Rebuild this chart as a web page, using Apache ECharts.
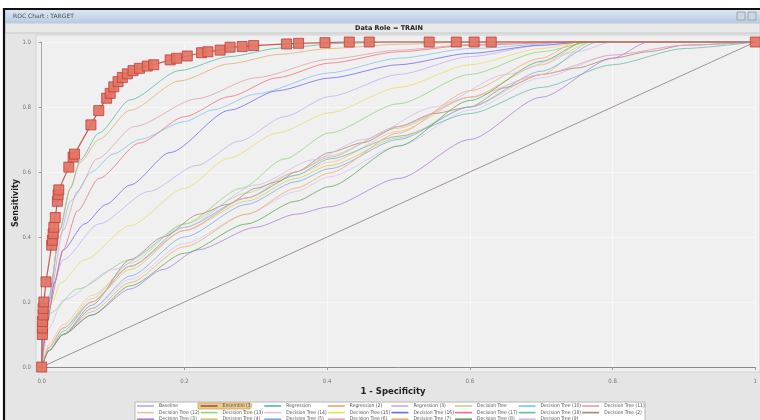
<!DOCTYPE html>
<html><head><meta charset="utf-8">
<script src="https://cdn.jsdelivr.net/npm/echarts@6/dist/echarts.min.js"></script>
<style>html,body{margin:0;padding:0;background:#fff;}#chart{width:760px;height:420px;}</style>
</head><body><div id="chart"></div>
<script>
// Axis ticks
const xTicks = [0, 0.2, 0.4, 0.6, 0.8, 1.0];
const yTicks = [0, 0.2, 0.4, 0.6, 0.8, 1.0];

// ROC points: [1 - specificity, sensitivity]
const baseline = [[0,0],[1,1]];
const ensemble3 = [[0,0],[0.001,0.10],[0.001,0.12],[0.001,0.14],[0.002,0.16],[0.002,0.18],[0.003,0.20],[0.006,0.262],[0.014,0.375],[0.015,0.39],[0.016,0.41],[0.017,0.43],[0.019,0.46],[0.022,0.51],[0.023,0.53],[0.024,0.545],[0.038,0.615],[0.044,0.646],[0.046,0.655],[0.069,0.745],[0.080,0.789],[0.091,0.827],[0.096,0.842],[0.101,0.862],[0.107,0.878],[0.113,0.891],[0.120,0.902],[0.128,0.912],[0.137,0.919],[0.148,0.926],[0.157,0.930],[0.180,0.945],[0.189,0.950],[0.204,0.957],[0.224,0.967],[0.233,0.970],[0.250,0.975],[0.264,0.984],[0.281,0.986],[0.297,0.989],[0.343,0.994],[0.360,0.996],[0.397,0.998],[0.431,1],[0.459,1],[0.543,1],[0.581,1],[0.606,1],[0.630,1],[1,1]];
const regression = [[0,0],[0.01,0.2],[0.025,0.42],[0.04,0.55],[0.054,0.637],[0.08,0.72],[0.124,0.822],[0.193,0.912],[0.263,0.955],[0.333,0.981],[0.42,0.996],[0.5,1],[1,1]];
const regression2 = [[0,0],[0.01,0.2],[0.025,0.42],[0.04,0.55],[0.054,0.63],[0.08,0.70],[0.124,0.79],[0.193,0.88],[0.263,0.933],[0.333,0.962],[0.403,0.98],[0.5,0.993],[0.6,1],[1,1]];
const regression3 = [[0,0],[0.005,0.13],[0.015,0.25],[0.03,0.33],[0.08,0.44],[0.15,0.54],[0.217,0.62],[0.277,0.695],[0.34,0.77],[0.403,0.832],[0.5,0.9],[0.6,0.955],[0.7,0.99],[0.76,1],[1,1]];
const decisionTree = [[0,0],[0.01,0.06],[0.03,0.12],[0.07,0.21],[0.124,0.32],[0.2,0.44],[0.287,0.535],[0.356,0.6],[0.403,0.65],[0.5,0.735],[0.6,0.83],[0.7,0.93],[0.77,1],[1,1]];
const decisionTree10 = [[0,0],[0.01,0.22],[0.025,0.40],[0.04,0.51],[0.07,0.6],[0.1,0.655],[0.137,0.70],[0.2,0.755],[0.24,0.791],[0.3,0.84],[0.403,0.905],[0.5,0.95],[0.6,0.98],[0.75,1],[1,1]];
const decisionTree11 = [[0,0],[0.01,0.2],[0.03,0.42],[0.05,0.54],[0.077,0.64],[0.13,0.74],[0.217,0.825],[0.3,0.89],[0.403,0.947],[0.5,0.975],[0.6,0.992],[0.7,1],[1,1]];
const decisionTree12 = [[0,0],[0.01,0.07],[0.03,0.13],[0.07,0.22],[0.124,0.31],[0.2,0.42],[0.287,0.52],[0.356,0.59],[0.403,0.63],[0.5,0.725],[0.6,0.83],[0.7,0.93],[0.76,1],[1,1]];
const decisionTree13 = [[0,0],[0.006,0.1],[0.012,0.166],[0.05,0.24],[0.124,0.33],[0.2,0.44],[0.28,0.55],[0.34,0.64],[0.403,0.72],[0.5,0.81],[0.6,0.9],[0.7,0.97],[0.77,1],[1,1]];
const decisionTree14 = [[0,0],[0.01,0.05],[0.03,0.1],[0.07,0.18],[0.124,0.27],[0.2,0.38],[0.287,0.47],[0.356,0.54],[0.403,0.585],[0.5,0.68],[0.6,0.79],[0.7,0.89],[0.8,0.96],[0.9,0.99],[1,1]];
const decisionTree15 = [[0,0],[0.005,0.1],[0.015,0.2],[0.026,0.258],[0.06,0.33],[0.124,0.435],[0.2,0.55],[0.263,0.643],[0.33,0.72],[0.403,0.782],[0.5,0.86],[0.6,0.93],[0.7,0.98],[0.76,1],[1,1]];
const decisionTree16 = [[0,0],[0.008,0.14],[0.018,0.26],[0.03,0.36],[0.06,0.44],[0.09,0.5],[0.124,0.56],[0.18,0.66],[0.263,0.79],[0.33,0.85],[0.403,0.889],[0.5,0.93],[0.6,0.965],[0.7,0.99],[0.76,1],[1,1]];
const decisionTree17 = [[0,0],[0.01,0.18],[0.03,0.36],[0.05,0.48],[0.08,0.58],[0.137,0.689],[0.2,0.77],[0.263,0.832],[0.33,0.89],[0.403,0.935],[0.5,0.97],[0.6,0.99],[0.75,1],[1,1]];
const decisionTree18 = [[0,0],[0.01,0.05],[0.03,0.11],[0.07,0.2],[0.124,0.31],[0.2,0.43],[0.287,0.52],[0.356,0.59],[0.403,0.64],[0.5,0.71],[0.6,0.78],[0.7,0.86],[0.8,0.93],[0.9,0.98],[1,1]];
const decisionTree2 = [[0,0],[0.01,0.05],[0.03,0.1],[0.07,0.19],[0.124,0.33],[0.17,0.4],[0.22,0.47],[0.26,0.5],[0.3,0.55],[0.33,0.57],[0.356,0.6],[0.403,0.66],[0.45,0.69],[0.5,0.74],[0.55,0.78],[0.6,0.8],[0.65,0.86],[0.7,0.9],[0.75,0.92],[0.8,0.95],[0.85,0.97],[0.9,0.99],[1,1]];
const decisionTree3 = [[0,0],[0.01,0.05],[0.03,0.1],[0.07,0.16],[0.124,0.24],[0.17,0.3],[0.218,0.36],[0.3,0.43],[0.356,0.47],[0.403,0.493],[0.5,0.58],[0.6,0.7],[0.7,0.83],[0.8,0.95],[0.85,1],[1,1]];
const decisionTree4 = [[0,0],[0.01,0.06],[0.03,0.12],[0.07,0.2],[0.124,0.3],[0.2,0.42],[0.287,0.51],[0.356,0.58],[0.403,0.62],[0.5,0.705],[0.6,0.8],[0.7,0.9],[0.77,1],[1,1]];
const decisionTree5 = [[0,0],[0.01,0.05],[0.03,0.1],[0.07,0.18],[0.124,0.28],[0.2,0.4],[0.287,0.5],[0.356,0.57],[0.403,0.61],[0.5,0.7],[0.6,0.8],[0.7,0.91],[0.78,1],[1,1]];
const decisionTree6 = [[0,0],[0.01,0.06],[0.03,0.12],[0.07,0.2],[0.124,0.31],[0.2,0.42],[0.287,0.52],[0.356,0.6],[0.403,0.645],[0.5,0.74],[0.6,0.83],[0.7,0.9],[0.8,0.96],[0.9,0.99],[1,1]];
const decisionTree7 = [[0,0],[0.01,0.05],[0.03,0.1],[0.07,0.17],[0.124,0.26],[0.2,0.37],[0.287,0.47],[0.356,0.55],[0.403,0.597],[0.5,0.72],[0.6,0.85],[0.7,0.95],[0.75,1],[1,1]];
const decisionTree8 = [[0,0],[0.01,0.05],[0.03,0.1],[0.07,0.16],[0.124,0.25],[0.2,0.35],[0.287,0.44],[0.356,0.51],[0.403,0.555],[0.5,0.68],[0.6,0.82],[0.7,0.94],[0.76,1],[1,1]];
const decisionTree9 = [[0,0],[0.01,0.12],[0.03,0.206],[0.1,0.3],[0.2,0.43],[0.3,0.56],[0.38,0.637],[0.45,0.7],[0.55,0.8],[0.65,0.9],[0.75,0.97],[0.8,1],[1,1]];

// Series names in legend order, with their point lists and colours
const seriesNames = ['Baseline','Ensemble (3)','Regression','Regression (2)','Regression (3)','Decision Tree','Decision Tree (10)','Decision Tree (11)',
  'Decision Tree (12)','Decision Tree (13)','Decision Tree (14)','Decision Tree (15)','Decision Tree (16)','Decision Tree (17)','Decision Tree (18)','Decision Tree (2)',
  'Decision Tree (3)','Decision Tree (4)','Decision Tree (5)','Decision Tree (6)','Decision Tree (7)','Decision Tree (8)','Decision Tree (9)'];
const seriesData = [baseline, ensemble3, regression, regression2, regression3, decisionTree, decisionTree10, decisionTree11,
  decisionTree12, decisionTree13, decisionTree14, decisionTree15, decisionTree16, decisionTree17, decisionTree18, decisionTree2,
  decisionTree3, decisionTree4, decisionTree5, decisionTree6, decisionTree7, decisionTree8, decisionTree9];
const seriesColors = ['#8e7a7c','#c24a44','#5fb9a8','#e3b06a','#c4b0ee','#c4d494','#84c4ee','#dca4ae',
  '#f2c29c','#94d486','#d6c6f2','#ecdc66','#6e6ef0','#ee7480','#6cbcb4','#a88e78',
  '#b47ede','#d2ca6c','#7eaaee','#eea4bc','#f2ac6a','#5eaa5e','#cebef0'];

const chart = echarts.init(document.getElementById('chart'), null, {renderer: 'canvas'});

const series = seriesNames.map((name, i) => {
  const isEns = name === 'Ensemble (3)';
  const isBase = name === 'Baseline';
  return {
    name: name,
    type: 'line',
    data: seriesData[i],
    clip: false,
    smooth: (isEns || isBase) ? false : 0.25,
    smoothMonotone: 'x',
    symbol: isEns ? 'rect' : 'none',
    symbolSize: isEns ? 10 : 0,
    showSymbol: isEns,
    z: isEns ? 10 : 2,
    color: seriesColors[i],
    lineStyle: {width: isEns ? 1.2 : 1, opacity: isEns ? 0.9 : 0.8, color: seriesColors[i]},
    itemStyle: isEns ? {color: 'rgba(226,116,98,0.92)', borderColor: '#c23c3c', borderWidth: 0.8} : undefined,
    emphasis: {disabled: true},
    animation: false
  };
});

const legendData = seriesNames.map((name) => {
  if (name === 'Baseline') return {name: name, itemStyle: {color: '#b4acea', borderWidth: 0}};
  if (name === 'Ensemble (3)') return {name: name, itemStyle: {color: '#a45c4c', borderWidth: 0}};
  return {name: name, itemStyle: {borderWidth: 0}};
});

const legendFont = '"Liberation Sans Narrow", "DejaVu Sans Condensed", sans-serif';

const option = {
  backgroundColor: '#ffffff',
  animation: false,
  grid: {left: 41.7, top: 42, width: 715.3, height: 325, containLabel: false},
  xAxis: {
    type: 'value', min: 0, max: 1, interval: 0.2, offset: 5,
    axisLine: {show: true, lineStyle: {color: '#8a8a8a', width: 1}},
    axisTick: {show: true, length: 3, lineStyle: {color: '#999'}},
    axisLabel: {fontSize: 6, color: '#777', margin: 6, fontFamily: 'DejaVu Sans Condensed',
      formatter: v => (xTicks.indexOf(+v.toFixed(1)) >= 0 ? (v === 1 ? '1' : v.toFixed(1)) : '')},
    splitLine: {show: true, lineStyle: {color: '#f8f8f8', width: 1}}
  },
  yAxis: {
    type: 'value', min: 0, max: 1, interval: 0.2, offset: 5.7,
    axisLine: {show: true, lineStyle: {color: '#a8a8a8', width: 1}},
    axisTick: {show: true, length: 3, lineStyle: {color: '#999'}},
    axisLabel: {fontSize: 6, color: '#777', margin: 5, fontFamily: 'DejaVu Sans Condensed',
      formatter: v => (yTicks.indexOf(+v.toFixed(1)) >= 0 ? v.toFixed(1) : '')},
    splitLine: {show: true, lineStyle: {color: '#f8f8f8', width: 1}}
  },
  legend: {
    data: legendData,
    left: 137, top: 403, width: 560,
    orient: 'horizontal',
    padding: 0, itemGap: 0.6,
    itemWidth: 17, itemHeight: 6,
    icon: 'path://M0,0H20V2H0Z',
    selectedMode: false,
    z: 6,
    formatter: name => '{t|' + name + '}',
    textStyle: {
      fontSize: 5, color: '#555', fontFamily: legendFont,
      rich: {t: {width: 41, height: 6, fontSize: 5, lineHeight: 6, color: '#555', fontFamily: legendFont}}
    }
  },
  graphic: {
    elements: [
      {type: 'rect', z: -10, shape: {x: 0, y: 0, width: 760, height: 420}, style: {fill: '#ffffff'}, silent: true},
      {type: 'rect', z: -9, shape: {x: 5, y: 33, width: 755, height: 387}, style: {fill: '#e5e5e5'}, silent: true},
      {type: 'rect', z: -8, shape: {x: 36, y: 35, width: 724, height: 337}, style: {fill: '#f0f0f0', stroke: '#d2d2d2', lineWidth: 1}, silent: true},
      {type: 'rect', z: -9, shape: {x: 5, y: 23, width: 755, height: 10}, style: {fill: '#e9e9e9', stroke: '#c8c8c8', lineWidth: 1}, silent: true},
      {type: 'rect', z: -9, shape: {x: 5, y: 10, width: 755, height: 13},
        style: {fill: new echarts.graphic.LinearGradient(0, 0, 0, 1, [{offset: 0, color: '#dce7f3'}, {offset: 1, color: '#b7cbe2'}])}, silent: true},
      {type: 'rect', z: 20, shape: {x: 4, y: 9, width: 762, height: 416}, style: {fill: 'none', stroke: '#111', lineWidth: 2.2}, silent: true},
      {type: 'rect', z: 20, shape: {x: 737, y: 12, width: 8, height: 8}, style: {fill: '#cfd6de', stroke: '#8d9aa8', lineWidth: 0.8}, silent: true},
      {type: 'rect', z: 20, shape: {x: 748, y: 12, width: 8, height: 8}, style: {fill: '#cfd6de', stroke: '#8d9aa8', lineWidth: 0.8}, silent: true},
      {type: 'text', z: 20, x: 13, y: 16, style: {text: 'ROC Chart : TARGET', fill: '#4a4a4a', font: '6px "DejaVu Sans"', verticalAlign: 'middle'}, silent: true},
      {type: 'text', z: 20, x: 389, y: 28, style: {text: 'Data Role = TRAIN', fill: '#222', font: 'bold 6.5px "DejaVu Sans"', align: 'center', verticalAlign: 'middle'}, silent: true},
      {type: 'text', z: 20, x: 16, y: 203, rotation: Math.PI / 2, style: {text: 'Sensitivity', fill: '#222', font: 'bold 8px "DejaVu Sans"', align: 'center', verticalAlign: 'middle'}, silent: true},
      {type: 'text', z: 20, x: 393, y: 392, style: {text: '1 - Specificity', fill: '#222', font: 'bold 8.5px "DejaVu Sans"', align: 'center', verticalAlign: 'middle'}, silent: true},
      {type: 'rect', z: 2, shape: {x: 135, y: 402, width: 510, height: 20}, style: {fill: '#ffffff', stroke: '#b8b8b8', lineWidth: 1}, silent: true},
      {type: 'rect', z: 3, shape: {x: 198, y: 403, width: 52, height: 6}, style: {fill: '#ebcb90', stroke: '#d4a24a', lineWidth: 0.8}, silent: true}
    ]
  },
  series: series
};
chart.setOption(option);
</script></body></html>
